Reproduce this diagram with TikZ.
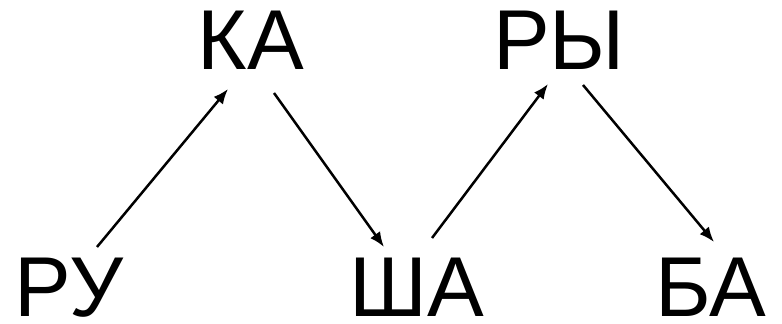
\documentclass[tikz,border=0pt]{standalone}
\usepackage{fontspec}
\setmainfont{Liberation Sans}
\usetikzlibrary{arrows.meta}
\begin{document}
\begin{tikzpicture}[
  lbl/.style={anchor=base, inner sep=0pt, text depth=0pt, text height=61pt, font=\fontsize{85pt}{85pt}\selectfont},
  arr/.style={line width=2.5pt, -{Latex[length=15pt,width=12pt]}}
]
\useasboundingbox (0pt,0pt) rectangle (782pt,324pt);
\node[lbl] (ru)  at (69pt,7pt)    {РУ};
\node[lbl] (ka)  at (251pt,254pt) {КА};
\node[lbl] (ry)  at (559pt,254pt) {РЫ};
\node[lbl] (sha) at (417pt,7pt)   {ША};
\node[lbl] (ba)  at (711pt,7pt)   {БА};
\draw[arr] ([shift={(28pt,70pt)}]ru.base) -- ([shift={(-23pt,-19pt)}]ka.base);
\draw[arr] ([shift={(23pt,-23pt)}]ka.base) -- ([shift={(-33pt,70pt)}]sha.base);
\draw[arr] ([shift={(15pt,79pt)}]sha.base) -- ([shift={(-11pt,-14pt)}]ry.base);
\draw[arr] ([shift={(24pt,-15pt)}]ry.base) -- ([shift={(3pt,75pt)}]ba.base);
\end{tikzpicture}
\end{document}
